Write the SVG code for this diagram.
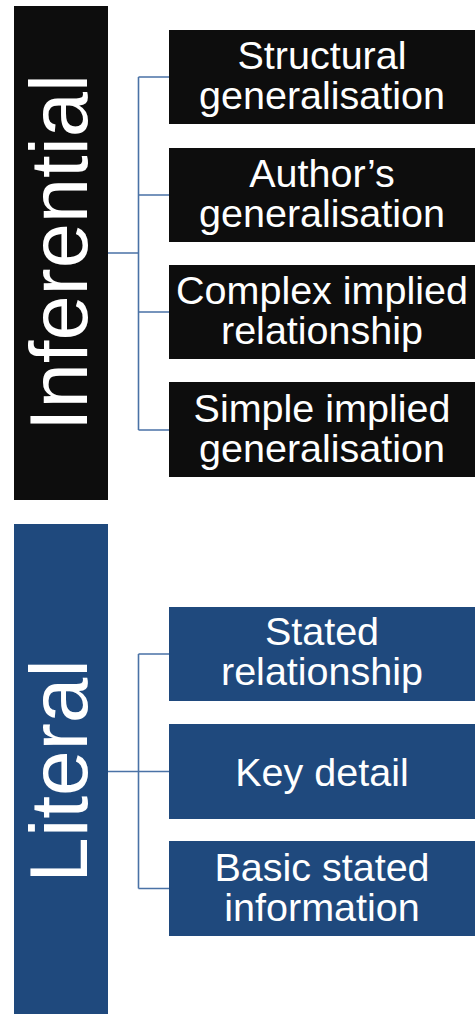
<svg xmlns="http://www.w3.org/2000/svg" width="475" height="1014" viewBox="0 0 475 1014">
<style>
.blk{fill:#0d0d0d}
.blu{fill:#1f497d}
.t{font-family:"Liberation Sans",Arial,sans-serif;font-size:39.5px;fill:#ffffff;text-anchor:middle}
.big{font-family:"Liberation Sans",Arial,sans-serif;font-size:82px;fill:#ffffff;text-anchor:middle}
.c{stroke:#4a72a6;stroke-width:1.6;fill:none}
</style>
<rect width="475" height="1014" fill="#ffffff"/>
<g id="connectors">
<path class="c" d="M108,253 H138.5 M138.5,77 V430 M138.5,77 H169 M138.5,195 H169 M138.5,312 H169 M138.5,430 H169"/>
<path class="c" d="M108,771.5 H138.5 M138.5,654 V888.5 M138.5,654 H169 M138.5,771.5 H169 M138.5,888.5 H169"/>
</g>
<g id="inferential">
<rect class="blk" x="14" y="6" width="94" height="494"/>
<text class="big" transform="translate(87,252.5) rotate(-90)" textLength="357" lengthAdjust="spacingAndGlyphs">Inferential</text>
</g>
<g id="literal">
<rect class="blu" x="14" y="524" width="94" height="490"/>
<text class="big" transform="translate(87,771) rotate(-90)">Literal</text>
</g>
<g id="structural">
<rect class="blk" x="169" y="30" width="306" height="94"/>
<text class="t" x="322" y="69">Structural</text>
<text class="t" x="322" y="109">generalisation</text>
</g>
<g id="authors">
<rect class="blk" x="169" y="148" width="306" height="94"/>
<text class="t" x="322" y="187">Author’s</text>
<text class="t" x="322" y="227">generalisation</text>
</g>
<g id="complex">
<rect class="blk" x="169" y="265" width="306" height="94"/>
<text class="t" x="322" y="304">Complex implied</text>
<text class="t" x="322" y="344">relationship</text>
</g>
<g id="simple">
<rect class="blk" x="169" y="382" width="306" height="95"/>
<text class="t" x="322" y="421.5">Simple implied</text>
<text class="t" x="322" y="461.5">generalisation</text>
</g>
<g id="stated">
<rect class="blu" x="169" y="607" width="306" height="94"/>
<text class="t" x="322" y="645">Stated</text>
<text class="t" x="322" y="685">relationship</text>
</g>
<g id="keydetail">
<rect class="blu" x="169" y="724" width="306" height="95"/>
<text class="t" x="322" y="785.5">Key detail</text>
</g>
<g id="basic">
<rect class="blu" x="169" y="841" width="306" height="95"/>
<text class="t" x="322" y="880.5">Basic stated</text>
<text class="t" x="322" y="920.5">information</text>
</g>
</svg>
